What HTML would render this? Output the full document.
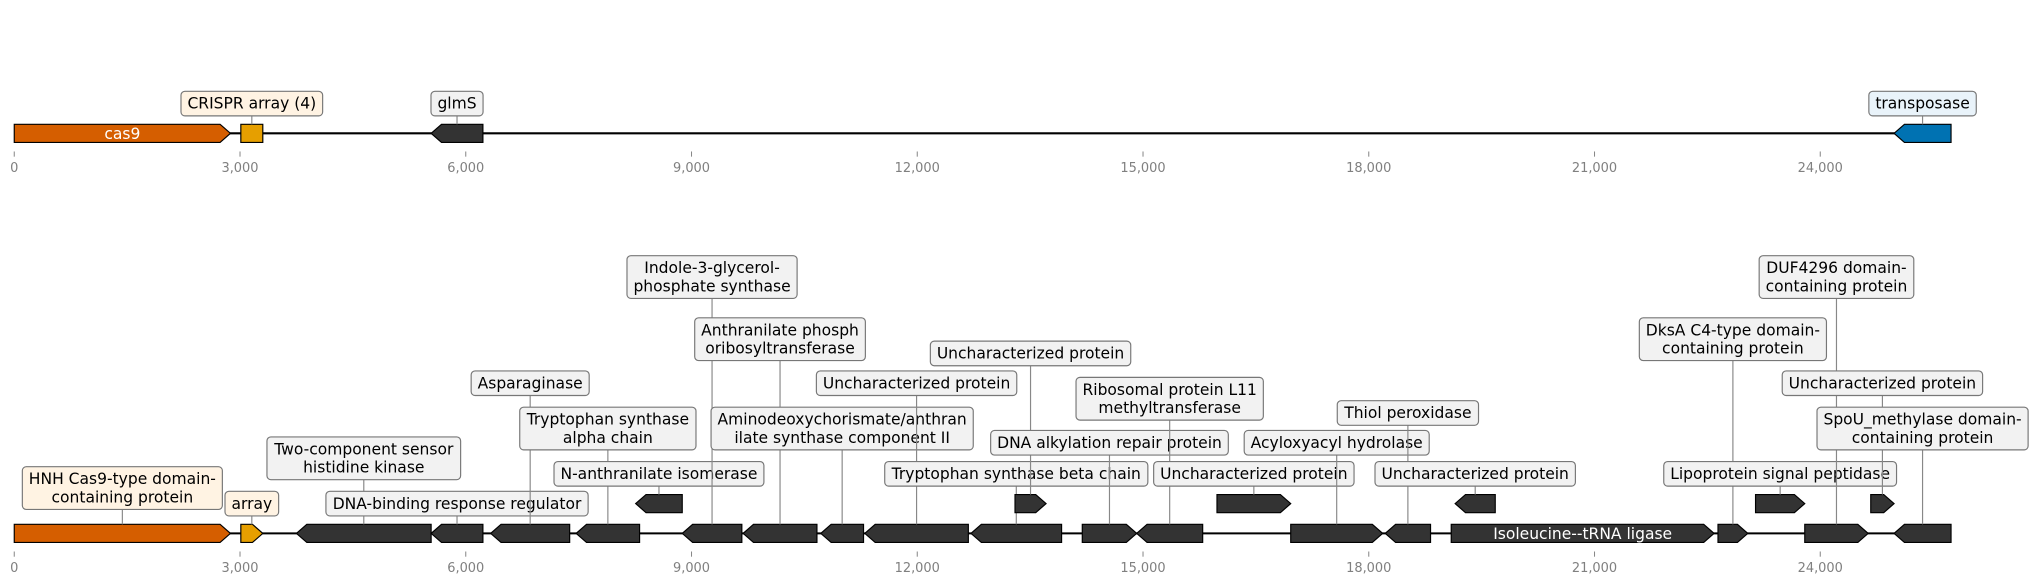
<!DOCTYPE html>
<html><head><meta charset="utf-8"><style>
html,body{margin:0;padding:0;background:#fff;}
svg{display:block;}
text{font-family:"DejaVu Sans","Liberation Sans",sans-serif;}
</style></head><body>
<svg id="chart" width="2030" height="582" viewBox="0 0 1568 449.55" xmlns="http://www.w3.org/2000/svg"></svg>
<script>
// ---- data ----
const tickValues = [0,3000,6000,9000,12000,15000,18000,21000,24000];
const tickLabels = ["0","3,000","6,000","9,000","12,000","15,000","18,000","21,000","24,000"];
const seqLength = 25738;

const topStarts  = [0, 3011, 5540, 24981];
const topEnds    = [2873, 3303, 6228, 25738];
const topStrands = [1, 0, -1, -1];
const topColors  = ["#d55e00","#e69f00","#333333","#0072b2"];
const topInside  = ["cas9","","",""];
const topLabels  = ["","CRISPR array (4)","glmS","transposase"];
const topLabelY  = [0,80,80,80];

const botStarts  = [0,3011,3750,5540,6331,7467,8258,8877,9686,10718,11303,12714,13299,14193,14916,15983,16963,18219,19148,19096,22641,23140,23794,24671,24981];
const botEnds    = [2873,3303,5540,6228,7381,8310,8877,9669,10667,11286,12679,13918,13712,14916,15793,16963,18185,18821,19681,22589,23037,23794,24637,24981,25738];
const botStrands = [1,1,-1,-1,-1,-1,-1,-1,-1,-1,-1,-1,1,1,-1,1,1,-1,-1,1,1,1,1,1,-1];
const botLevels  = [0,0,0,0,0,0,1,0,0,0,0,0,1,0,0,1,0,0,1,0,0,1,0,1,0];
const botLabels  = ["HNH Cas9-type domain-\ncontaining protein","array","Two-component sensor\nhistidine kinase","DNA-binding response regulator","Asparaginase","Tryptophan synthase\nalpha chain","N-anthranilate isomerase","Indole-3-glycerol-\nphosphate synthase","Anthranilate phosph\noribosyltransferase","Aminodeoxychorismate/anthran\nilate synthase component II","Uncharacterized protein","Tryptophan synthase beta chain","Uncharacterized protein","DNA alkylation repair protein","Ribosomal protein L11\nmethyltransferase","Uncharacterized protein","Acyloxyacyl hydrolase","Thiol peroxidase","Uncharacterized protein","","DksA C4-type domain-\ncontaining protein","Lipoprotein signal peptidase","DUF4296 domain-\ncontaining protein","Uncharacterized protein","SpoU_methylase domain-\ncontaining protein"];
const botInside  = ["","","","","","","","","","","","","","","","","","","","Isoleucine--tRNA ligase","","","","",""];
const botLabelY  = [377,389,354,389,296,331,366,214,262,331,296,366,273,342,308,366,342,319,366,0,262,366,214,296,331];
const botColors  = ["#d55e00","#e69f00","#333","#333","#333","#333","#333","#333","#333","#333","#333","#333","#333","#333","#333","#333","#333","#333","#333","#333","#333","#333","#333","#333","#333"];

// ---- drawing ----
const svg = document.getElementById('chart');
const NS = 'http://www.w3.org/2000/svg';
const X0 = 11, PX_PER_BP = (1406-11)/24000;
const xs = v => X0 + v*PX_PER_BP;
function mk(tag, attrs, parent){const e=document.createElementNS(NS,tag);for(const k in attrs)e.setAttribute(k,attrs[k]);(parent||svg).appendChild(e);return e;}

function drawAxis(yTick, name){
  const g = mk('g',{});
  
  
  tickValues.forEach((v,i)=>{
    const t = mk('line',{x1:xs(v),x2:xs(v),y1:yTick,y2:yTick+4,stroke:'#888','stroke-width':0.8},g);
    
    
    const l = mk('text',{x:xs(v),y:yTick+16,'text-anchor':'middle','font-size':10,fill:'#808080'},g);
    l.textContent = tickLabels[i];
    
    
  });
}

function featPath(x1,x2,yc,strand,h){
  const w=x2-x1, hl=Math.min(8,w), t=yc-h/2, b=yc+h/2;
  if(strand===1) return `M${x1},${t}L${x2-hl},${t}L${x2},${yc}L${x2-hl},${b}L${x1},${b}Z`;
  if(strand===-1) return `M${x2},${t}L${x1+hl},${t}L${x1},${yc}L${x1+hl},${b}L${x2},${b}Z`;
  return `M${x1},${t}L${x2},${t}L${x2},${b}L${x1},${b}Z`;
}

function drawLabel(cx, ly, text, featTop, fill){
  const lines = text.split('\n');
  const lh = 14, fs = 12;
  const boxH = lines.length*lh + 5;
  const top = ly - boxH/2;
  const conn = mk('line',{x1:cx,x2:cx,y1:ly+boxH/2,y2:featTop,stroke:'#888','stroke-width':0.9});
  
  
  const g = mk('g',{});
  
  
  const rect = mk('rect',{y:top,height:boxH,rx:3,fill:fill,stroke:'#777','stroke-width':0.9},g);
  const tx = mk('text',{x:cx,'text-anchor':'middle','font-size':fs,fill:'#000'},g);
  lines.forEach((s,i)=>{const ts=mk('tspan',{x:cx,y:top+2.5+lh*(i+1)-3},tx);ts.textContent=s;});
  let w; try{w=tx.getBBox().width;}catch(e){w=0;}
  if(!w) w = Math.max(...lines.map(s=>s.length))*7;
  rect.setAttribute('x', cx-w/2-5); rect.setAttribute('width', w+10);
}

function drawTrack(yLine, starts, ends, strands, colors, inside, labels, labelY, levels, trackName){
  const bb = mk('line',{x1:xs(0),x2:xs(seqLength),y1:yLine,y2:yLine,stroke:'#000','stroke-width':1.6});
  
  
  const h=14;
  starts.forEach((s,i)=>{
    const lvl = levels ? levels[i] : 0;
    const yc = yLine - lvl*23;
    const x1=xs(s), x2=xs(ends[i]);
    const p = mk('path',{d:featPath(x1,x2,yc,strands[i],h),fill:colors[i],stroke:'#000','stroke-width':0.9});
    
    
    if(inside[i]){
      const t = mk('text',{x:(x1+x2)/2,y:yc+4.2,'text-anchor':'middle','font-size':12,fill:'#fff'});
      t.textContent = inside[i];
      
      
    }
    if(labels[i]){
      const fill = colors[i]==='#d55e00'||colors[i]==='#e69f00' ? '#fff3e3' : (colors[i]==='#0072b2' ? '#e9f3fa' : '#f2f2f2');
      drawLabel((x1+x2)/2, labelY[i], labels[i], yc-h/2, fill);
    }
  });
}

drawTrack(103, topStarts, topEnds, topStrands, topColors, topInside, topLabels, topLabelY, null, 'top-track');
drawAxis(117, 'top-x-axis');
drawTrack(412, botStarts, botEnds, botStrands, botColors, botInside, botLabels, botLabelY, botLevels, 'bottom-track');
drawAxis(426, 'bottom-x-axis');
</script>
</body></html>
